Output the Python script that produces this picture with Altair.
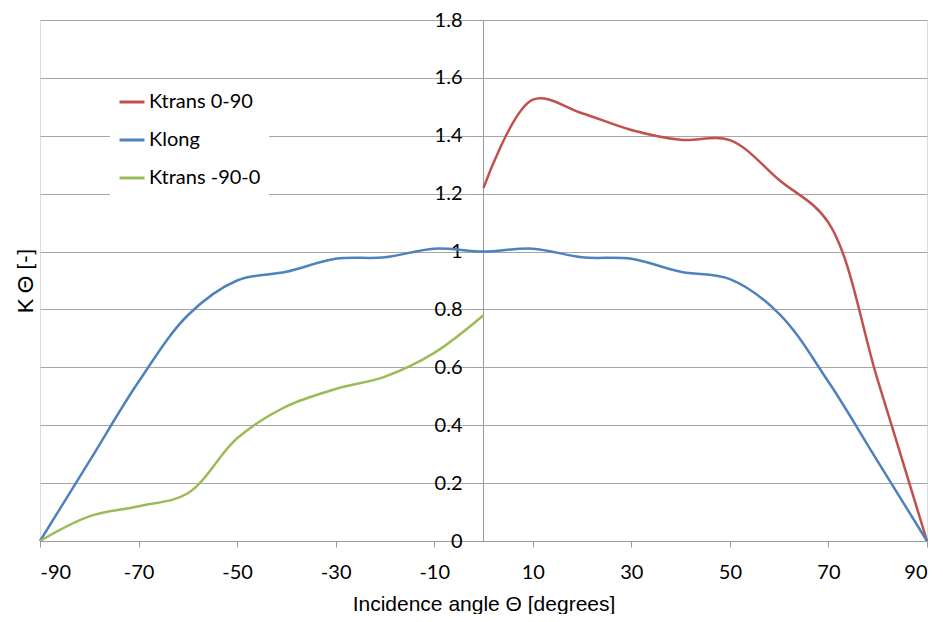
import altair as alt
import pandas as pd

# ---- data ----
angles_full = [-90, -80, -70, -60, -50, -40, -30, -20, -10, 0,
               10, 20, 30, 40, 50, 60, 70, 80, 90]
klong = [0.0, 0.275, 0.55, 0.78, 0.90, 0.93, 0.975, 0.98, 1.01, 1.00,
         1.01, 0.98, 0.975, 0.93, 0.905, 0.785, 0.55, 0.275, 0.0]

angles_neg = [-90, -80, -70, -60, -50, -40, -30, -20, -10, 0]
ktrans_neg = [0.0, 0.085, 0.12, 0.165, 0.355, 0.465, 0.525, 0.568, 0.65, 0.78]

angles_pos = [0, 10, 20, 30, 40, 50, 60, 70, 80, 90]
ktrans_pos = [1.22, 1.525, 1.478, 1.42, 1.386, 1.385, 1.247, 1.10, 0.556, 0.0]

series_names = ["Ktrans 0-90", "Klong", "Ktrans -90-0"]
series_colors = ["#C0504D", "#4F81BD", "#9BBB59"]

x_ticks = [-90, -70, -50, -30, -10, 10, 30, 50, 70, 90]
y_ticks = [0, 0.2, 0.4, 0.6, 0.8, 1.0, 1.2, 1.4, 1.6, 1.8]

rows = []
for a, v in zip(angles_pos, ktrans_pos):
    rows.append({"angle": a, "K": v, "series": series_names[0]})
for a, v in zip(angles_full, klong):
    rows.append({"angle": a, "K": v, "series": series_names[1]})
for a, v in zip(angles_neg, ktrans_neg):
    rows.append({"angle": a, "K": v, "series": series_names[2]})
df = pd.DataFrame(rows)

W, H = 887, 521
AX_OFF = -(483 - 40)  # y axis drawn at angle 0

chart = alt.Chart(df).mark_line(
    interpolate="catmull-rom", strokeWidth=2.5
).encode(
    x=alt.X("angle:Q",
            scale=alt.Scale(domain=[-90, 90], nice=False, zero=False),
            axis=alt.Axis(values=x_ticks, title="Incidence angle Θ [degrees]",
                          labelExpr="datum.value + ''",
                          grid=False, domainColor="#9a9a9a", tickColor="#9a9a9a",
                          tickSize=6, labelFont="Lato", labelFontSize=20,
                          labelColor="#000000", labelPadding=15,
                          titleFont="Liberation Sans", titleFontSize=21,
                          titleFontWeight="normal", titleColor="#000000",
                          titleBaseline="alphabetic", titleY=69, titleX=W / 2)),
    y=alt.Y("K:Q",
            scale=alt.Scale(domain=[0, 1.8], nice=False),
            axis=alt.Axis(values=y_ticks, format="~g", title="K Θ [-]",
                          offset=AX_OFF, grid=True, gridColor="#a6a6a6",
                          domainColor="#9a9a9a", tickColor="#9a9a9a",
                          tickSize=5, labelFont="Lato", labelFontSize=20,
                          labelColor="#000000", labelPadding=16,
                          titleFont="Lato", titleFontSize=22,
                          titleFontWeight="normal", titleColor="#000000",
                          titleBaseline="middle", titleAngle=-90,
                          titleX=25 - 40 + AX_OFF, titleY=H / 2)),
    color=alt.Color("series:N",
                    scale=alt.Scale(domain=series_names, range=series_colors),
                    legend=alt.Legend(orient="none", legendX=70, legendY=60,
                                      title=None, symbolType="stroke",
                                      symbolStrokeWidth=3, symbolSize=625,
                                      labelFont="Lato", labelFontSize=20,
                                      labelColor="#000000", labelOffset=3,
                                      rowPadding=14, fillColor="white",
                                      padding=8)),
    detail="series:N",
).properties(
    width=W, height=H,
    autosize=alt.AutoSizeParams(type="none"),
    padding={"left": 32, "top": 12, "right": 8, "bottom": 73},
).configure_view(
    stroke=None
).configure(background="white")

chart.save("out.html", embed_options={"renderer": "svg", "actions": False})
